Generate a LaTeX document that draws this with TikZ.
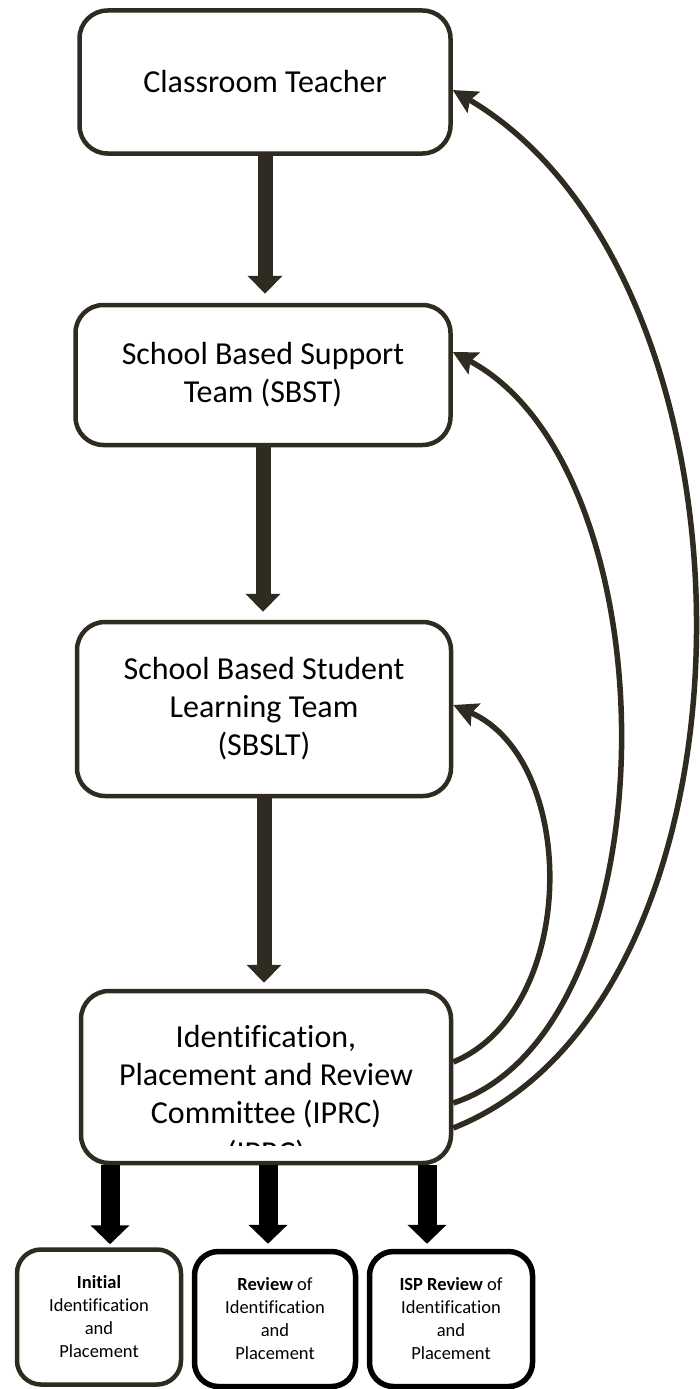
\documentclass[tikz,border=0pt]{standalone}
\usepackage{fontspec}
\setmainfont{Carlito}[Ligatures=NoCommon]
\usetikzlibrary{positioning,arrows.meta}
\definecolor{darkline}{HTML}{2F2B20}

\begin{document}
\begin{tikzpicture}[x=1pt,y=-1pt,
        box/.style={rectangle,rounded corners=28pt,draw=darkline,line width=4.5pt,fill=white,
            align=center,inner sep=0pt,font=\fontsize{32pt}{38pt}\selectfont},
        smallbox/.style={rectangle,rounded corners=24pt,draw=black,line width=5.5pt,fill=white,
            align=center,inner sep=0pt,minimum height=135pt,font=\fontsize{18.5pt}{23pt}\selectfont},
        downarrow/.style={draw=darkline,line width=15pt,-{Triangle[length=18pt,width=34pt]}},
        outarrow/.style={draw=black,line width=19pt,-{Triangle[length=19pt,width=38pt]}},
        backarrow/.style={draw=darkline,line width=5.5pt,-{Stealth[length=24pt,width=24pt,inset=4pt]}}]
            \useasboundingbox (0,0) rectangle (699,1389);

            \node [box,minimum width=371pt,minimum height=143pt] (teacher) at (265,82) {Classroom Teacher};
            \node [box,minimum width=375pt,minimum height=140pt] (sbst) at (263,375) {School Based Support\\Team (SBST)};
            \node [box,minimum width=374pt,minimum height=174pt] (sbslt) at (264,709) {School Based Student\\Learning Team\\(SBSLT)};
            \node [box,minimum width=370pt,minimum height=172pt] (iprc) at (266,1077) {Identification,\\Placement and Review\\Committee (IPRC)};
            % the cut off line at the bottom of the committee box
            \begin{scope}
                \clip (90,1100) rectangle (440,1145);
                \node [anchor=base,inner sep=0pt,font=\fontsize{32pt}{38pt}\selectfont] (iprcrest) at (266,1163) {(IPRC)};
            \end{scope}

            \node [smallbox,draw=darkline,line width=4.5pt,minimum width=164pt] (initial) at (99,1317) {\textbf{Initial}\\Identification\\and\\Placement};
            \node [smallbox,minimum width=161pt] (review) at (275,1319) {\textbf{Review} of\\Identification\\and\\Placement};
            \node [smallbox,minimum width=163pt] (ispreview) at (451,1319) {\textbf{ISP Review} of\\Identification\\and\\Placement};

            \draw [downarrow,shorten >=9pt] (teacher.south) -- (teacher.south |- sbst.north);
            \draw [downarrow,shorten >=8pt] (sbst.south) -- (sbst.south |- sbslt.north);
            \draw [downarrow,shorten >=6pt] (sbslt.south) -- (sbslt.south |- iprc.north);

            \draw [outarrow,shorten >=3pt] (iprc.south -| 110,0) -- (initial.north -| 110,0);
            \draw [outarrow,shorten >=5pt] (iprc.south -| 268,0) -- (review.north -| 268,0);
            \draw [outarrow,shorten >=5pt] (iprc.south -| 427,0) -- (ispreview.north -| 427,0);

            \draw [backarrow] ([yshift=15pt]iprc.east) .. controls (579,1010) and (579,760) .. ([yshift=4pt]sbslt.east);
            \draw [backarrow] ([yshift=-26pt]iprc.east) .. controls (675,1030) and (675,470) .. ([yshift=23pt]sbst.east);
            \draw [backarrow] ([yshift=-51pt]iprc.east) .. controls (775,1000) and (775,280) .. ([yshift=-8pt]teacher.east);
        \end{tikzpicture}
\end{document}
